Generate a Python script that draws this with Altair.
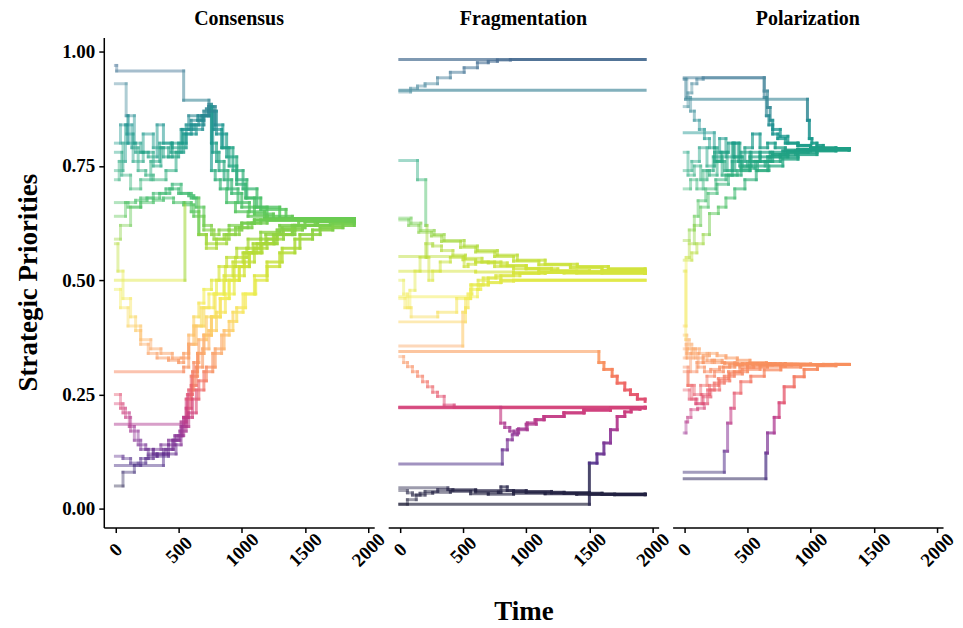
import altair as alt
import pandas as pd

FONT = "Liberation Serif"

# ---------------- data: step trajectories (time points, value from that time on) -------------
consensus = {
    "c_top":   ([0, 10, 540, 740, 780, 840, 900, 960, 1030, 1100, 1200, 1400, 1890],
                [0.97, 0.958, 0.894, 0.87, 0.83, 0.79, 0.75, 0.71, 0.68, 0.66, 0.64, 0.633, 0.633]),
    "c_top2":  ([0, 85, 100, 160, 220, 300, 380, 450, 530, 600, 680, 740, 770, 820, 890, 970, 1060, 1180, 1890],
                [0.93, 0.86, 0.80, 0.78, 0.82, 0.79, 0.77, 0.80, 0.83, 0.85, 0.86, 0.88, 0.78, 0.74, 0.70, 0.67, 0.65, 0.635, 0.633]),
    "c_t1":    ([0, 60, 100, 150, 200, 260, 330, 380, 440, 520, 580, 650, 700, 740, 760, 800, 860, 920, 1000, 1100, 1250, 1890],
                [0.74, 0.80, 0.86, 0.80, 0.78, 0.77, 0.84, 0.80, 0.78, 0.83, 0.86, 0.85, 0.87, 0.885, 0.80, 0.76, 0.72, 0.69, 0.66, 0.645, 0.633, 0.633]),
    "c_t2":    ([0, 40, 90, 140, 220, 300, 360, 420, 500, 560, 620, 690, 740, 790, 850, 930, 1010, 1120, 1300, 1890],
                [0.80, 0.84, 0.82, 0.76, 0.78, 0.75, 0.79, 0.77, 0.80, 0.84, 0.83, 0.86, 0.88, 0.84, 0.79, 0.74, 0.70, 0.66, 0.635, 0.633]),
    "c_t3":    ([0, 30, 80, 130, 180, 240, 300, 400, 480, 540, 600, 660, 720, 745, 760, 790, 830, 880, 950, 1050, 1200, 1890],
                [0.72, 0.76, 0.84, 0.79, 0.74, 0.73, 0.72, 0.74, 0.78, 0.82, 0.84, 0.86, 0.875, 0.88, 0.74, 0.72, 0.70, 0.67, 0.65, 0.64, 0.633, 0.633]),
    "c_t4":    ([0, 50, 120, 200, 280, 350, 450, 560, 640, 700, 740, 800, 880, 960, 1040, 1150, 1350, 1890],
                [0.78, 0.73, 0.70, 0.72, 0.76, 0.80, 0.79, 0.82, 0.84, 0.86, 0.87, 0.82, 0.77, 0.72, 0.68, 0.655, 0.635, 0.633]),
    "c_g1":    ([0, 100, 200, 300, 400, 450, 520, 600, 640, 700, 760, 820, 900, 1000, 1100, 1890],
                [0.67, 0.66, 0.68, 0.69, 0.70, 0.71, 0.69, 0.68, 0.66, 0.62, 0.60, 0.61, 0.62, 0.625, 0.632, 0.633]),
    "c_g2":    ([0, 80, 160, 250, 350, 430, 500, 580, 620, 660, 720, 800, 880, 980, 1080, 1200, 1890],
                [0.64, 0.67, 0.675, 0.68, 0.69, 0.70, 0.69, 0.685, 0.68, 0.60, 0.57, 0.58, 0.60, 0.615, 0.625, 0.632, 0.633]),
    "c_g3":    ([0, 40, 120, 200, 300, 380, 460, 540, 620, 700, 780, 860, 950, 1050, 1150, 1890],
                [0.59, 0.62, 0.66, 0.67, 0.675, 0.68, 0.67, 0.665, 0.64, 0.61, 0.59, 0.60, 0.615, 0.625, 0.632, 0.633]),
    "c_half":  ([0, 550, 600, 660, 720, 800, 900, 1000, 1100, 1890],
                [0.50, 0.67, 0.65, 0.60, 0.58, 0.59, 0.61, 0.625, 0.632, 0.633]),
    "c_y1":    ([0, 20, 60, 120, 160, 200, 260, 330, 420, 500, 540, 580, 620, 660, 700, 760, 820, 880, 960, 1050, 1150, 1300, 1450, 1890],
                [0.58, 0.52, 0.46, 0.42, 0.39, 0.36, 0.34, 0.33, 0.325, 0.32, 0.34, 0.38, 0.42, 0.45, 0.48, 0.50, 0.53, 0.55, 0.57, 0.59, 0.605, 0.62, 0.63, 0.633]),
    "c_y2":    ([0, 40, 100, 200, 280, 360, 450, 520, 580, 640, 700, 780, 860, 940, 1020, 1120, 1250, 1400, 1890],
                [0.48, 0.44, 0.40, 0.37, 0.35, 0.34, 0.33, 0.33, 0.36, 0.40, 0.44, 0.47, 0.50, 0.53, 0.56, 0.58, 0.60, 0.62, 0.633]),
    "c_or":    ([0, 540, 580, 620, 680, 740, 800, 870, 950, 1040, 1150, 1280, 1420, 1600, 1890],
                [0.30, 0.31, 0.36, 0.40, 0.44, 0.47, 0.50, 0.53, 0.55, 0.57, 0.59, 0.61, 0.62, 0.63, 0.633]),
    "c_p1":    ([0, 40, 80, 120, 180, 240, 300, 380, 450, 500, 540, 570, 610, 650, 700, 760, 830, 900, 980, 1060, 1160, 1280, 1420, 1600, 1890],
                [0.25, 0.22, 0.20, 0.17, 0.14, 0.13, 0.12, 0.13, 0.15, 0.16, 0.20, 0.25, 0.30, 0.34, 0.38, 0.42, 0.46, 0.50, 0.53, 0.56, 0.58, 0.60, 0.62, 0.63, 0.633]),
    "c_p2":    ([0, 60, 110, 150, 200, 260, 330, 420, 480, 520, 560, 600, 640, 690, 740, 800, 870, 940, 1020, 1100, 1200, 1330, 1480, 1700, 1890],
                [0.23, 0.21, 0.18, 0.15, 0.13, 0.12, 0.115, 0.12, 0.14, 0.18, 0.22, 0.27, 0.31, 0.35, 0.39, 0.43, 0.47, 0.51, 0.54, 0.57, 0.59, 0.61, 0.62, 0.63, 0.633]),
    "c_pp":    ([0, 540, 580, 620, 660, 720, 790, 860, 930, 1010, 1090, 1190, 1320, 1500, 1890],
                [0.185, 0.20, 0.26, 0.32, 0.37, 0.42, 0.47, 0.51, 0.54, 0.56, 0.58, 0.60, 0.615, 0.628, 0.633]),
    "c_pu":    ([0, 60, 120, 180, 240, 300, 360, 420, 480, 530, 580, 640, 700, 770, 840, 900, 960, 1030, 1110, 1200, 1300, 1420, 1560, 1720, 1890],
                [0.115, 0.11, 0.10, 0.10, 0.11, 0.13, 0.14, 0.15, 0.16, 0.18, 0.21, 0.26, 0.30, 0.34, 0.38, 0.41, 0.44, 0.47, 0.50, 0.53, 0.56, 0.59, 0.61, 0.625, 0.633]),
    "c_gr":    ([0, 380, 420, 470, 520, 560, 600, 650, 700, 760, 830, 900, 980, 1060, 1150, 1260, 1400, 1580, 1890],
                [0.095, 0.12, 0.14, 0.16, 0.19, 0.24, 0.29, 0.34, 0.38, 0.42, 0.46, 0.50, 0.53, 0.56, 0.58, 0.60, 0.62, 0.63, 0.633]),
    "c_dk":    ([0, 60, 150, 200, 260, 330, 400, 460, 510, 560, 610, 660, 720, 790, 860, 930, 1010, 1100, 1200, 1320, 1460, 1620, 1800, 1890],
                [0.05, 0.08, 0.095, 0.11, 0.115, 0.12, 0.13, 0.15, 0.17, 0.20, 0.24, 0.28, 0.31, 0.35, 0.39, 0.43, 0.47, 0.51, 0.54, 0.57, 0.60, 0.615, 0.63, 0.633]),
}

fragmentation = {
    "f_top":   ([0, 1941], [0.983, 0.983]),
    "f_rise":  ([0, 85, 140, 200, 298, 400, 509, 614, 700, 772, 875, 1941],
                [0.912, 0.92, 0.925, 0.93, 0.943, 0.955, 0.965, 0.976, 0.979, 0.982, 0.983, 0.983]),
    "f_916":   ([0, 1941], [0.916, 0.916]),
    "f_76":    ([0, 140, 205, 215, 230, 260, 320, 400, 500, 600, 750, 900, 1100, 1400, 1941],
                [0.762, 0.72, 0.62, 0.55, 0.50, 0.52, 0.54, 0.55, 0.545, 0.54, 0.53, 0.525, 0.52, 0.517, 0.515]),
    "f_636a":  ([0, 89, 166, 272, 351, 509, 614, 772, 930, 1150, 1404, 1650, 1941],
                [0.636, 0.625, 0.609, 0.60, 0.587, 0.575, 0.565, 0.555, 0.544, 0.535, 0.53, 0.525, 0.52]),
    "f_636b":  ([0, 70, 150, 250, 330, 480, 600, 750, 900, 1100, 1350, 1600, 1941],
                [0.632, 0.62, 0.605, 0.597, 0.585, 0.572, 0.562, 0.552, 0.542, 0.534, 0.528, 0.522, 0.518]),
    "f_552":   ([0, 509, 540, 600, 700, 850, 1000, 1200, 1500, 1941],
                [0.552, 0.53, 0.535, 0.54, 0.538, 0.532, 0.526, 0.521, 0.518, 0.515]),
    "f_52":    ([0, 600, 900, 1300, 1941], [0.52, 0.518, 0.517, 0.516, 0.515]),
    "f_y1":    ([0, 40, 80, 120, 160, 205, 260, 330, 420, 520, 650, 800, 1000, 1250, 1600, 1941],
                [0.46, 0.44, 0.478, 0.52, 0.55, 0.58, 0.575, 0.565, 0.555, 0.548, 0.54, 0.532, 0.525, 0.52, 0.516, 0.515]),
    "f_464":   ([0, 614, 640, 700, 800, 1941], [0.464, 0.48, 0.49, 0.495, 0.50, 0.50]),
    "f_409":   ([0, 520, 540, 570, 620, 700, 800, 950, 1150, 1400, 1941],
                [0.409, 0.44, 0.47, 0.49, 0.50, 0.505, 0.51, 0.515, 0.517, 0.517, 0.516]),
    "f_356":   ([0, 498, 520, 560, 620, 700, 800, 900, 1941],
                [0.356, 0.43, 0.46, 0.48, 0.49, 0.495, 0.498, 0.50, 0.50]),
    "f_y2":    ([0, 30, 60, 90, 300, 450, 560, 660, 760, 900, 1100, 1400, 1941],
                [0.50, 0.47, 0.44, 0.42, 0.43, 0.46, 0.49, 0.505, 0.51, 0.515, 0.517, 0.516, 0.515]),
    "f_344":   ([0, 1575, 1615, 1680, 1720, 1780, 1825, 1880, 1941],
                [0.344, 0.32, 0.305, 0.29, 0.275, 0.26, 0.25, 0.24, 0.235]),
    "f_333":   ([0, 30, 61, 100, 140, 180, 219, 260, 298, 351, 430, 1941],
                [0.333, 0.32, 0.311, 0.30, 0.29, 0.278, 0.267, 0.255, 0.246, 0.227, 0.222, 0.222]),
    "f_222a":  ([0, 1941], [0.222, 0.222]),
    "f_222b":  ([0, 1941], [0.221, 0.221]),
    "f_dip":   ([0, 798, 830, 870, 904, 940, 1000, 1080, 1141, 1299, 1457, 1667, 1941],
                [0.222, 0.1875, 0.178, 0.17, 0.166, 0.175, 0.185, 0.195, 0.202, 0.21, 0.216, 0.221, 0.222]),
    "f_098":   ([0, 811, 851, 890, 930, 1009, 1070, 1141, 1299, 1457, 1667, 1941],
                [0.098, 0.129, 0.151, 0.162, 0.173, 0.188, 0.195, 0.202, 0.21, 0.216, 0.221, 0.222]),
    "f_010":   ([0, 1500, 1560, 1615, 1667, 1720, 1780, 1830, 1900, 1941],
                [0.01, 0.10, 0.12, 0.144, 0.173, 0.202, 0.212, 0.218, 0.221, 0.222]),
    "f_d1":    ([0, 380, 600, 900, 1200, 1500, 1941], [0.046, 0.042, 0.04, 0.038, 0.035, 0.032, 0.031]),
    "f_d2":    ([0, 60, 130, 200, 300, 420, 600, 780, 800, 850, 1000, 1300, 1600, 1941],
                [0.01, 0.02, 0.03, 0.038, 0.042, 0.04, 0.037, 0.036, 0.048, 0.040, 0.036, 0.034, 0.032, 0.031]),
    "f_d3":    ([0, 60, 100, 160, 260, 400, 560, 700, 900, 1150, 1400, 1700, 1941],
                [0.04, 0.035, 0.03, 0.034, 0.036, 0.038, 0.033, 0.032, 0.034, 0.033, 0.032, 0.031, 0.031]),
}

polarization = {
    "p_943":   ([0, 633, 659, 680, 700, 740, 800, 900, 1000, 1100, 1304],
                [0.943, 0.914, 0.878, 0.85, 0.82, 0.81, 0.80, 0.795, 0.79, 0.788, 0.787]),
    "p_896":   ([0, 10, 975, 990, 1010, 1050, 1100, 1200, 1304],
                [0.94, 0.896, 0.85, 0.81, 0.80, 0.795, 0.79, 0.788, 0.787]),
    "p_curve": ([0, 30, 60, 100, 150, 633, 650, 670, 700, 760, 820, 900, 1000, 1100, 1304],
                [0.88, 0.91, 0.93, 0.94, 0.943, 0.90, 0.86, 0.84, 0.83, 0.815, 0.80, 0.795, 0.79, 0.788, 0.787]),
    "p_823":   ([0, 238, 260, 300, 350, 400, 450, 520, 600, 700, 800, 900, 1050, 1304],
                [0.823, 0.79, 0.76, 0.78, 0.80, 0.77, 0.78, 0.76, 0.78, 0.775, 0.78, 0.785, 0.787, 0.787]),
    "p_desc":  ([0, 20, 50, 80, 120, 160, 200, 240, 290, 340, 400, 460, 530, 600, 680, 780, 900, 1050, 1304],
                [0.94, 0.90, 0.87, 0.85, 0.83, 0.81, 0.79, 0.76, 0.78, 0.74, 0.77, 0.75, 0.78, 0.77, 0.78, 0.783, 0.786, 0.787, 0.787]),
    "p_78":    ([0, 30, 80, 130, 180, 230, 300, 380, 450, 520, 600, 700, 820, 950, 1304],
                [0.78, 0.73, 0.75, 0.72, 0.74, 0.77, 0.73, 0.76, 0.74, 0.77, 0.76, 0.775, 0.782, 0.786, 0.787]),
    "p_70":    ([0, 50, 100, 150, 200, 260, 320, 380, 440, 500, 580, 660, 760, 880, 1000, 1304],
                [0.70, 0.72, 0.70, 0.74, 0.73, 0.76, 0.74, 0.80, 0.75, 0.76, 0.74, 0.77, 0.775, 0.783, 0.786, 0.787]),
    "p_587":   ([0, 40, 80, 110, 170, 250, 330, 420, 520, 640, 760, 900, 1050, 1304],
                [0.587, 0.61, 0.64, 0.674, 0.70, 0.72, 0.73, 0.74, 0.75, 0.76, 0.77, 0.78, 0.785, 0.787]),
    "p_544":   ([0, 60, 100, 150, 200, 270, 330, 400, 480, 570, 670, 780, 900, 1050, 1200, 1304],
                [0.544, 0.56, 0.58, 0.60, 0.646, 0.66, 0.68, 0.70, 0.72, 0.74, 0.75, 0.765, 0.775, 0.783, 0.786, 0.787]),
    "p_40":    ([0, 15, 40, 80, 130, 190, 260, 350, 450, 560, 680, 820, 980, 1304],
                [0.40, 0.55, 0.58, 0.62, 0.66, 0.69, 0.71, 0.73, 0.745, 0.76, 0.77, 0.78, 0.785, 0.787]),
    "p_jit":   ([0, 60, 120, 180, 240, 280, 330, 390, 430, 480, 540, 600, 660, 720, 800, 900, 1000, 1304],
                [0.74, 0.76, 0.79, 0.75, 0.78, 0.81, 0.77, 0.80, 0.76, 0.79, 0.82, 0.79, 0.80, 0.79, 0.785, 0.787, 0.787, 0.787]),
    "p_o1":    ([0, 20, 50, 100, 150, 200, 260, 330, 420, 520, 650, 800, 1000, 1304],
                [0.38, 0.34, 0.30, 0.32, 0.335, 0.34, 0.335, 0.33, 0.325, 0.32, 0.318, 0.317, 0.316, 0.316]),
    "p_o2":    ([0, 30, 80, 130, 180, 240, 310, 400, 500, 620, 760, 950, 1304],
                [0.30, 0.27, 0.25, 0.27, 0.29, 0.30, 0.31, 0.315, 0.318, 0.317, 0.316, 0.316, 0.316]),
    "p_o3":    ([0, 15, 60, 110, 160, 210, 280, 360, 460, 580, 720, 900, 1304],
                [0.33, 0.36, 0.34, 0.31, 0.30, 0.305, 0.31, 0.315, 0.318, 0.317, 0.316, 0.316, 0.316]),
    "p_o4":    ([0, 40, 90, 140, 200, 270, 350, 440, 550, 700, 880, 1304],
                [0.26, 0.24, 0.23, 0.25, 0.27, 0.285, 0.30, 0.31, 0.315, 0.316, 0.316, 0.316]),
    "p_o5":    ([0, 25, 70, 120, 180, 240, 320, 420, 540, 680, 850, 1304],
                [0.35, 0.33, 0.35, 0.34, 0.325, 0.32, 0.318, 0.316, 0.317, 0.316, 0.316, 0.316]),
    "p_oy":    ([0, 12, 40, 90, 150, 220, 300, 400, 520, 680, 900, 1304],
                [0.52, 0.37, 0.35, 0.33, 0.32, 0.325, 0.32, 0.318, 0.317, 0.316, 0.316, 0.316]),
    "p_mag":   ([0, 14, 27, 53, 106, 159, 185, 238, 317, 396, 501, 659, 850, 1304],
                [0.166, 0.19, 0.20, 0.217, 0.22, 0.23, 0.26, 0.275, 0.29, 0.30, 0.31, 0.315, 0.316, 0.316]),
    "p_mag2":  ([0, 30, 60, 100, 150, 210, 280, 360, 460, 600, 800, 1304],
                [0.31, 0.27, 0.24, 0.23, 0.245, 0.26, 0.28, 0.295, 0.305, 0.312, 0.316, 0.316]),
    "p_pu1":   ([0, 317, 343, 369, 396, 448, 527, 633, 764, 922, 1100, 1304],
                [0.08, 0.126, 0.1875, 0.22, 0.253, 0.278, 0.29, 0.304, 0.31, 0.314, 0.316, 0.316]),
    "p_pu2":   ([0, 646, 659, 712, 751, 791, 870, 949, 1054, 1200, 1304],
                [0.066, 0.122, 0.166, 0.2, 0.232, 0.267, 0.289, 0.305, 0.313, 0.316, 0.316]),
}

panel_titles = ["Consensus", "Fragmentation", "Polarization"]
x_ticks = [0, 500, 1000, 1500, 2000]
y_ticks = [0.0, 0.25, 0.5, 0.75, 1.0]

color_domain = [0.0, 0.05, 0.10, 0.16, 0.22, 0.30, 0.36, 0.42, 0.47, 0.52, 0.58, 0.65, 0.72, 0.79, 0.86, 0.92, 0.99]
color_range = ["#14142b", "#2c2a4f", "#4f2f8a", "#8e3a99", "#d2427a", "#f6845a", "#fbb070", "#f7dc5e",
               "#f2ef58", "#d4e33a", "#a8d838", "#55c55a", "#34b07a", "#1f9e86", "#2a8791", "#4f8ea0", "#4a6990"]


def to_segments(traces):
    tmax = max(ts[-1] for ts, vs in traces.values())
    rows = []
    for name, (ts, vs) in traces.items():
        for i in range(len(ts) - 1):
            rows.append(dict(agent=name, t0=ts[i], t1=ts[i + 1], v0=vs[i], v1=vs[i],
                             c=vs[i], a=(ts[i] + ts[i + 1]) / 2 / tmax))
            if vs[i + 1] != vs[i]:
                rows.append(dict(agent=name, t0=ts[i + 1], t1=ts[i + 1], v0=vs[i], v1=vs[i + 1],
                                 c=(vs[i] + vs[i + 1]) / 2, a=ts[i + 1] / tmax))
    return pd.DataFrame(rows)


X_DOMAIN = [-92, 2048]
Y_DOMAIN = [-0.041, 1.031]


def panel(traces, title, idx):
    df = to_segments(traces)
    x_axis = alt.Axis(values=x_ticks, format="d", labelAngle=315, labelAlign="center",
                      labelBaseline="middle", labelPadding=17, labelFont=FONT, labelFontSize=19,
                      labelFontWeight="bold", labelColor="black", tickColor="black",
                      domainColor="black", tickSize=5, tickWidth=1.5, domainWidth=1.5, grid=False,
                      labelOverlap=False, title="Time" if idx == 1 else "", titleFont=FONT,
                      titleFontSize=27, titleFontWeight="bold", titleColor="black",
                      titleBaseline="alphabetic", titleY=92)
    if idx == 0:
        y_axis = alt.Axis(values=y_ticks, format=".2f", labelFont=FONT, labelFontSize=19,
                          labelFontWeight="bold", labelColor="black", tickColor="black",
                          domainColor="black", tickSize=5, tickWidth=1.5, domainWidth=1.5,
                          grid=False, labelPadding=4, title="Strategic Priorities", titleFont=FONT,
                          titleFontSize=27, titleFontWeight="bold", titleColor="black",
                          titleBaseline="alphabetic", titleX=-67, titleY=245, labelOverlap=False)
        y_enc = alt.Y("v0:Q", scale=alt.Scale(domain=Y_DOMAIN, nice=False, zero=False), axis=y_axis)
    else:
        y_enc = alt.Y("v0:Q", scale=alt.Scale(domain=Y_DOMAIN, nice=False, zero=False), axis=None)
    return alt.Chart(df).mark_rule(strokeWidth=3, strokeCap="square").encode(
        x=alt.X("t0:Q", scale=alt.Scale(domain=X_DOMAIN, nice=False, zero=False), axis=x_axis),
        x2="t1:Q",
        y=y_enc,
        y2="v1:Q",
        color=alt.Color("c:Q", scale=alt.Scale(domain=color_domain, range=color_range), legend=None),
        opacity=alt.Opacity("a:Q", scale=alt.Scale(domain=[0, 1], range=[0.4, 1.0]), legend=None),
    ).properties(
        width=271, height=491,
        title=alt.TitleParams(title, font=FONT, fontSize=20, fontWeight="bold", color="black",
                              baseline="alphabetic", offset=-7, anchor="middle"),
    )


chart = alt.hconcat(
    panel(consensus, panel_titles[0], 0),
    panel(fragmentation, panel_titles[1], 1),
    panel(polarization, panel_titles[2], 2),
    spacing=14, bounds="flush",
).resolve_scale(color="shared", opacity="independent").configure_view(stroke=None).properties(
    padding={"left": 15, "top": 8, "right": 5, "bottom": 2}, background="white"
)

chart.save("out.html", embed_options={"renderer": "svg", "actions": False})
